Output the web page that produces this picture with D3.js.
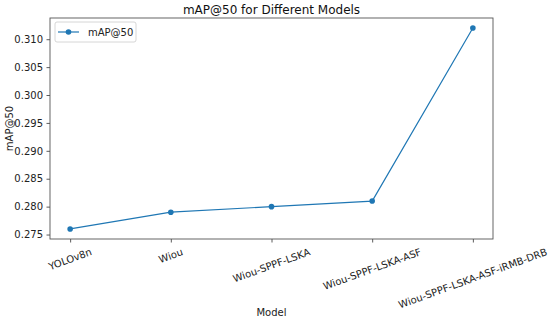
<!DOCTYPE html>
<html><head><meta charset="utf-8">
<script src="https://cdn.jsdelivr.net/npm/d3@7"></script>
<style>body{margin:0;background:#fff}svg{display:block;font-family:"DejaVu Sans",sans-serif}</style>
</head><body><svg id="c" width="550" height="320"></svg>
<script>
const models = ["YOLOv8n","Wiou","Wiou-SPPF-LSKA","Wiou-SPPF-LSKA-ASF","Wiou-SPPF-LSKA-ASF-iRMB-DRB"];
const mapValues = [0.276,0.279,0.280,0.281,0.312];
const yTicks = [0.275,0.280,0.285,0.290,0.295,0.300,0.305,0.310];
const seriesName = "mAP@50";

const svg = d3.select("#c");
const L=50,R=493,T=18,B=239;
const color="#1f77b4";
const x = d3.scaleLinear().domain([-0.2, models.length-1+0.2]).range([L,R]);
const ymin=d3.min(mapValues), ymax=d3.max(mapValues), m=(ymax-ymin)*0.05;
const y = d3.scaleLinear().domain([ymin-m, ymax+m]).range([B,T]);

// y axis
const ya = svg.append("g").attr("transform",`translate(${L},0)`)
  .call(d3.axisLeft(y).tickValues(yTicks).tickFormat(d3.format(".3f")).tickSize(3.5).tickPadding(3.5));
ya.select(".domain").remove();
ya.selectAll("line").attr("stroke","#333").attr("stroke-width",0.8);
ya.selectAll("text").attr("font-size",10).attr("fill","#222").attr("font-family","DejaVu Sans");

// x axis
const xa = svg.append("g").attr("transform",`translate(0,${B})`)
  .call(d3.axisBottom(x).tickValues(d3.range(models.length)).tickFormat(()=>"").tickSize(3.5));
xa.select(".domain").remove();
xa.selectAll("line").attr("stroke","#333").attr("stroke-width",0.8);
const theta=20*Math.PI/180;
const y0=B+7;
models.forEach((name,i)=>{
  const t = svg.append("text").text(name).attr("font-size",10).attr("fill","#222")
    .attr("text-anchor","middle").attr("dominant-baseline","central");
  const w = t.node().getComputedTextLength(), h=11.5;
  const bh = w*Math.sin(theta)+h*Math.cos(theta);
  t.attr("transform",`translate(${x(i)},${y0+bh/2}) rotate(-20)`);
});

// frame
svg.append("rect").attr("x",L).attr("y",T).attr("width",R-L).attr("height",B-T)
  .attr("fill","none").attr("stroke","#555").attr("stroke-width",0.9);

// line
svg.append("path").datum(mapValues).attr("fill","none").attr("stroke",color).attr("stroke-width",1.2)
  .attr("d",d3.line().x((d,i)=>x(i)).y(d=>y(d)));
svg.selectAll("circle.pt").data(mapValues).enter().append("circle").attr("class","pt")
  .attr("cx",(d,i)=>x(i)).attr("cy",d=>y(d)).attr("r",2.8).attr("fill",color);

// title & labels
svg.append("text").text("mAP@50 for Different Models").attr("x",(L+R)/2).attr("y",14)
  .attr("text-anchor","middle").attr("font-size",12).attr("fill","#111");
svg.append("text").text("Model").attr("x",(L+R)/2).attr("y",316)
  .attr("text-anchor","middle").attr("font-size",10).attr("fill","#222");
svg.append("text").text("mAP@50").attr("transform",`translate(13,${(T+B)/2}) rotate(-90)`)
  .attr("text-anchor","middle").attr("font-size",10).attr("fill","#222");

// legend
const lg = svg.append("g");
lg.append("rect").attr("x",55).attr("y",22).attr("width",81).attr("height",20).attr("rx",2)
  .attr("fill","#fff").attr("fill-opacity",0.8).attr("stroke","#ccc").attr("stroke-width",0.8);
lg.append("line").attr("x1",58).attr("x2",79).attr("y1",32).attr("y2",32).attr("stroke",color).attr("stroke-width",1.2);
lg.append("circle").attr("cx",68.5).attr("cy",32).attr("r",2.8).attr("fill",color);
lg.append("text").text(seriesName).attr("x",88).attr("y",35.5).attr("font-size",10).attr("fill","#222");
</script></body></html>
